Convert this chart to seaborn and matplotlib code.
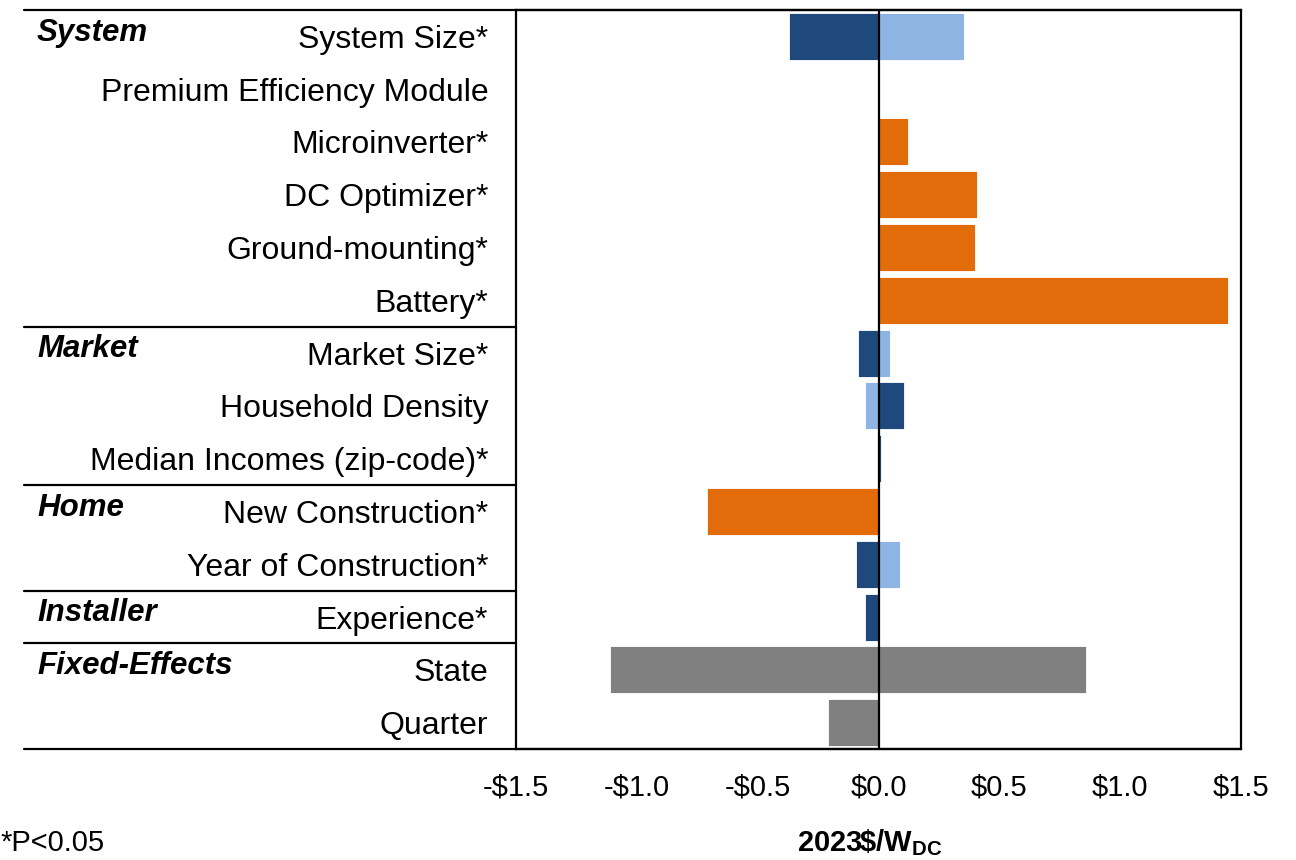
import numpy as np
import pandas as pd
import matplotlib
matplotlib.use("Agg")
import matplotlib.pyplot as plt
import matplotlib.transforms as mtransforms
from matplotlib.lines import Line2D
import seaborn as sns

# ---------------- data ----------------
categories = [
    "System Size*", "Premium Efficiency Module", "Microinverter*", "DC Optimizer*",
    "Ground-mounting*", "Battery*", "Market Size*", "Household Density",
    "Median Incomes (zip-code)*", "New Construction*", "Year of Construction*",
    "Experience*", "State", "Quarter",
]
dark_blue = [-0.37, None, None, None, None, None, -0.083, 0.107, 0.012, None, -0.095, -0.057, None, None]
light_blue = [0.354, None, None, None, None, None, 0.048, -0.057, -0.006, None, 0.087, None, None, None]
orange = [None, None, 0.123, 0.406, 0.40, 1.448, None, None, None, -0.709, None, None, None, None]
grey_low = [None] * 12 + [-1.113, -0.21]
grey_high = [None] * 12 + [0.860, None]

groups = ["System", "Market", "Home", "Installer", "Fixed-Effects"]
group_first_row = [0, 6, 9, 11, 12]
group_bounds = [5.5, 8.5, 10.5, 11.5]
xticks = [-1.5, -1.0, -0.5, 0.0, 0.5, 1.0, 1.5]

series_data = {
    "dark": dark_blue,
    "light": light_blue,
    "orange": orange,
    "grey_low": grey_low,
    "grey_high": grey_high,
}
palette = {
    "dark": "#1F497D",
    "light": "#8EB4E3",
    "orange": "#E36C0A",
    "grey_low": "#808080",
    "grey_high": "#808080",
}

rows = []
for s, vals in series_data.items():
    for c, v in zip(categories, vals):
        if v is not None:
            rows.append({"category": c, "value": v, "series": s})
df = pd.DataFrame(rows)

# ---------------- figure ----------------
sns.set_theme(style="white")
plt.rcParams["font.family"] = ["Liberation Sans", "DejaVu Sans"]
plt.rcParams["mathtext.fontset"] = "custom"
plt.rcParams["mathtext.rm"] = "Liberation Sans"
plt.rcParams["mathtext.bf"] = "Liberation Sans:bold"

W, H = 1296, 860
fig = plt.figure(figsize=(W / 100, H / 100), dpi=100)
ax_l, ax_r, ax_t, ax_b = 516, 1241, 10, 749
ax = fig.add_axes([ax_l / W, 1 - ax_b / H, (ax_r - ax_l) / W, (ax_b - ax_t) / H])

sns.barplot(
    data=df, x="value", y="category", hue="series", order=categories,
    hue_order=list(series_data.keys()), palette=palette, dodge=False,
    orient="h", width=0.89, errorbar=None, legend=False, ax=ax,
    edgecolor="white", linewidth=0.6, saturation=1,
)

ax.set_xlim(-1.5, 1.5)
ax.set_ylim(13.5, -0.5)
ax.axvline(0, color="black", lw=1.6, zorder=5)

for sp in ax.spines.values():
    sp.set_visible(True)
    sp.set_color("black")
    sp.set_linewidth(1.6)

ax.set_xticks(xticks)
ax.set_xticklabels([("-$" if t < 0 else "$") + f"{abs(t):.1f}" for t in xticks])
ax.tick_params(axis="x", length=0, pad=18, labelsize=21, colors="black")
ax.tick_params(axis="y", length=0, pad=20, labelsize=23, colors="black")
ax.set_ylabel("")
ax.set_xlabel(r"2023\$/W$_{\mathbf{DC}}$", fontsize=21, fontweight="bold", color="black")
ax.xaxis.set_label_coords((870 - ax_l) / (ax_r - ax_l), (ax_b - 827) / (ax_b - ax_t))

# left table: group labels and separator lines
trans = mtransforms.blended_transform_factory(fig.transFigure, ax.transData)
for g, r in zip(groups, group_first_row):
    ax.text(37 / W, r - 0.07, g, transform=trans, ha="left", va="center",
            fontsize=22.5, fontweight="bold", fontstyle="italic", color="black")

x0 = 24 / W
xa = ax_l / W
xr = ax_r / W
for yb in group_bounds:
    ax.add_line(Line2D([x0, xa], [yb, yb], transform=trans, color="black",
                       lw=1.6, clip_on=False))
for yb in [-0.5, 13.5]:
    ax.add_line(Line2D([x0, xr], [yb, yb], transform=trans, color="black",
                       lw=1.6, clip_on=False))

fig.text(0, 1 - 843 / H, "*P<0.05", ha="left", va="center", fontsize=21, color="black")

fig.savefig("out.png", dpi=100, facecolor="white")
